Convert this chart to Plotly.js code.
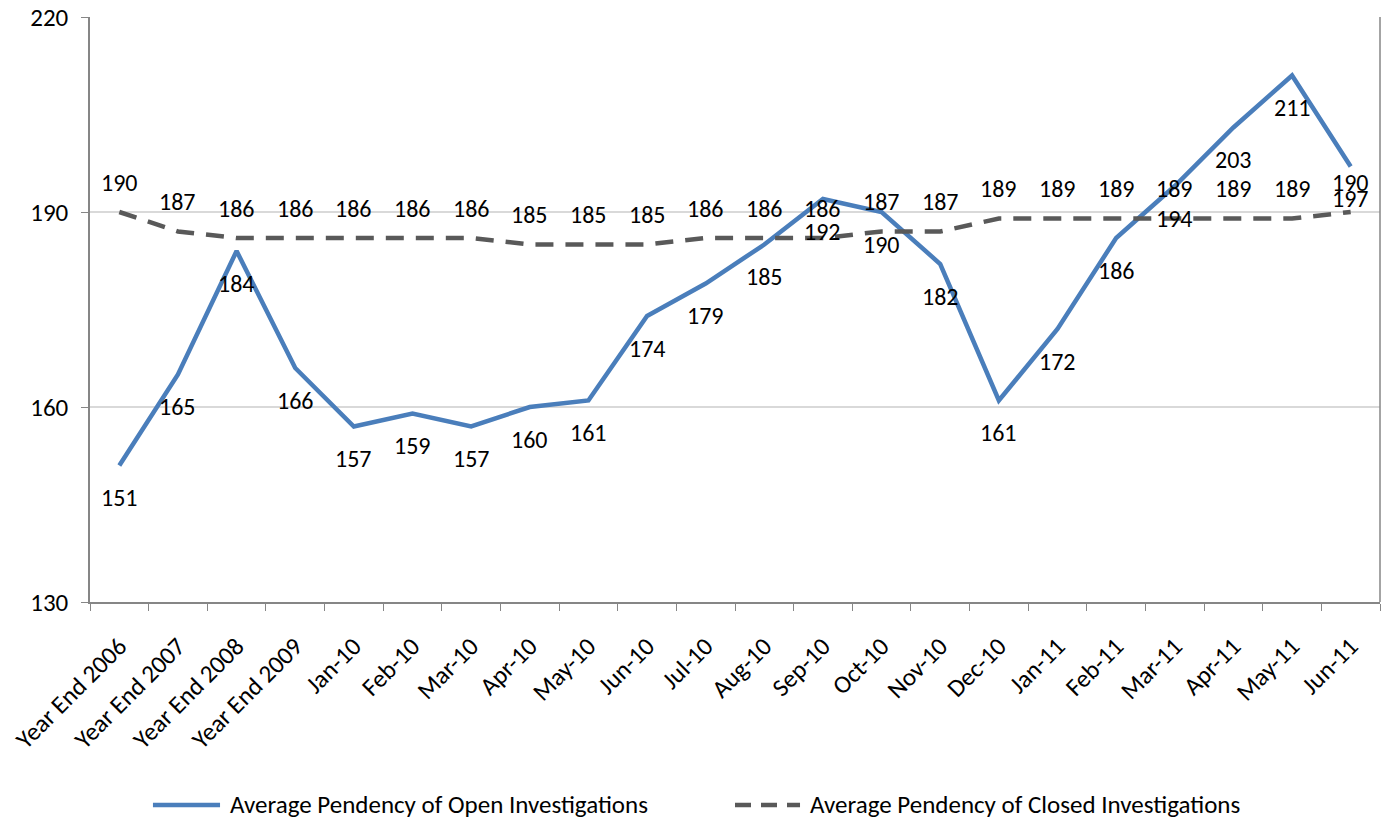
<!DOCTYPE html>
<html><head><meta charset="utf-8">
<script src="https://cdn.plot.ly/plotly-3.0.1.min.js"></script>
<style>html,body{margin:0;padding:0;background:#fff}#c{width:1387px;height:824px}</style>
</head><body><div id="c"></div>
<script>
const categories = ["Year End 2006","Year End 2007","Year End 2008","Year End 2009","Jan-10","Feb-10","Mar-10","Apr-10","May-10","Jun-10","Jul-10","Aug-10","Sep-10","Oct-10","Nov-10","Dec-10","Jan-11","Feb-11","Mar-11","Apr-11","May-11","Jun-11"];
const openPendency = [151,165,184,166,157,159,157,160,161,174,179,185,192,190,182,161,172,186,194,203,211,197];
const closedPendency = [190,187,186,186,186,186,186,185,185,185,186,186,186,187,187,189,189,189,189,189,189,190];
const yTicks = [130,160,190,220];
const seriesNames = ["Average Pendency of Open Investigations","Average Pendency of Closed Investigations"];

const FONT = "Carlito, Lato, 'Liberation Sans', sans-serif";
const FS = 24;
const OPEN_COLOR = "#4A7EBB", CLOSED_COLOR = "#595959";
const annotations = [];
categories.forEach((c,i)=>{
  annotations.push({x:c,y:openPendency[i],text:String(openPendency[i]),showarrow:false,yshift:-32,font:{family:FONT,size:FS,color:"#000"}});
  annotations.push({x:c,y:closedPendency[i],text:String(closedPendency[i]),showarrow:false,yshift:30,font:{family:FONT,size:FS,color:"#000"}});
});
// custom legend
const legY = -0.347;
annotations.push({xref:"paper",yref:"paper",x:0.107,y:legY,xanchor:"left",yanchor:"middle",text:seriesNames[0],showarrow:false,font:{family:FONT,size:FS+1,color:"#000"}});
annotations.push({xref:"paper",yref:"paper",x:0.5566,y:legY,xanchor:"left",yanchor:"middle",text:seriesNames[1],showarrow:false,font:{family:FONT,size:FS+1,color:"#000"}});

const traces = [
  {x:categories,y:openPendency,type:"scatter",mode:"lines",name:seriesNames[0],line:{color:OPEN_COLOR,width:4.5}},
  {x:categories,y:closedPendency,type:"scatter",mode:"lines",name:seriesNames[1],line:{color:CLOSED_COLOR,width:4.5,dash:"18px,12px"}}
];

const layout = {
  width:1387,height:824,
  margin:{l:90,r:7,t:17,b:222},
  paper_bgcolor:"#fff",plot_bgcolor:"#fff",
  font:{family:FONT,size:FS,color:"#000"},
  showlegend:false,
  xaxis:{type:"category",range:[-0.5,21.5],tickangle:-45,ticks:"outside",tickson:"boundaries",ticklen:7,tickcolor:"#868686",ticklabelstandoff:18,
    showline:true,linecolor:"#868686",linewidth:1.5,showgrid:false,mirror:false,tickfont:{family:FONT,size:FS+1}},
  yaxis:{range:[130,220],tickvals:yTicks,ticktext:yTicks.map(String),ticks:"outside",ticklen:7,tickcolor:"#868686",ticklabelstandoff:8,
    showline:true,linecolor:"#868686",linewidth:1.5,showgrid:true,gridcolor:"#D9D9D9",gridwidth:1.5,zeroline:false,tickfont:{family:FONT,size:FS+1}},
  shapes:[
    {type:"line",xref:"paper",yref:"paper",x0:1,x1:1,y0:0,y1:1,line:{color:"#868686",width:1.5}},
    {type:"line",xref:"paper",yref:"paper",x0:0.0488,x1:0.1008,y0:legY,y1:legY,line:{color:OPEN_COLOR,width:4.5}},
    {type:"line",xref:"paper",yref:"paper",x0:0.5,x1:0.5504,y0:legY,y1:legY,line:{color:CLOSED_COLOR,width:4.5,dash:"16px,10px"}}
  ],
  annotations:annotations
};
Plotly.newPlot("c",traces,layout,{displayModeBar:false});
</script></body></html>
